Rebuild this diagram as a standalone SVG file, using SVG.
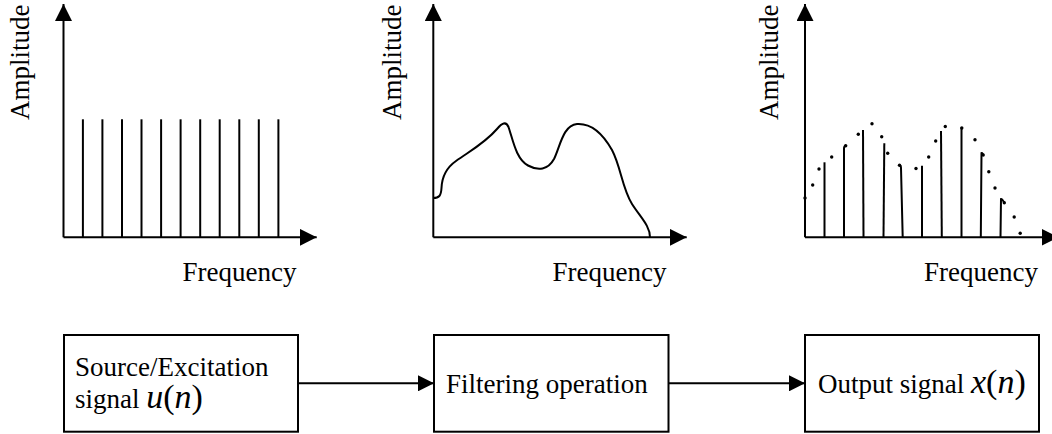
<svg xmlns="http://www.w3.org/2000/svg" width="1052" height="434" viewBox="0 0 1052 434">
<style>
.ax{stroke:#000;stroke-width:2;fill:none}
.st{stroke:#000;stroke-width:2;fill:none}
.bx{stroke:#000;stroke-width:2;fill:#fff}
.t{font-family:"Liberation Serif","Times New Roman",serif;font-size:27px;fill:#000}
.m{font-family:"Liberation Serif","Times New Roman",serif;font-size:34px;font-style:italic}
.p{font-family:"Liberation Serif","Times New Roman",serif;font-size:34px;font-style:normal}
.d{fill:#000}
</style>
<defs>
<marker id="ah" viewBox="0 0 17 17" refX="17" refY="8.5" markerWidth="17" markerHeight="17" markerUnits="userSpaceOnUse" orient="auto">
<path d="M0,0 L17,8.5 L0,17 Z" fill="#000"/>
</marker>
<marker id="ah2" viewBox="0 0 16 16" refX="16" refY="8" markerWidth="16" markerHeight="16" markerUnits="userSpaceOnUse" orient="auto">
<path d="M0,0 L16,8 L0,16 Z" fill="#000"/>
</marker>
</defs>
<rect width="1052" height="434" fill="#fff"/>

<g id="panel1">
<line class="ax" x1="63.5" y1="237.3" x2="63.5" y2="4" marker-end="url(#ah)"/>
<line class="ax" x1="63.5" y1="237.3" x2="316.7" y2="237.3" marker-end="url(#ah)"/>
<g class="st">
<line x1="82.9" y1="119.3" x2="82.9" y2="237.3"/>
<line x1="102.4" y1="119.3" x2="102.4" y2="237.3"/>
<line x1="122" y1="119.3" x2="122" y2="237.3"/>
<line x1="141.5" y1="119.3" x2="141.5" y2="237.3"/>
<line x1="161.1" y1="119.3" x2="161.1" y2="237.3"/>
<line x1="180.6" y1="119.3" x2="180.6" y2="237.3"/>
<line x1="200.2" y1="119.3" x2="200.2" y2="237.3"/>
<line x1="219.7" y1="119.3" x2="219.7" y2="237.3"/>
<line x1="239.3" y1="119.3" x2="239.3" y2="237.3"/>
<line x1="258.8" y1="119.3" x2="258.8" y2="237.3"/>
<line x1="278.4" y1="119.3" x2="278.4" y2="237.3"/>
</g>
<text class="t" transform="translate(28.5,120) rotate(-90)">Amplitude</text>
<text class="t" x="296.5" y="281" text-anchor="end">Frequency</text>
</g>

<g id="panel2">
<line class="ax" x1="433.3" y1="237.3" x2="433.3" y2="4" marker-end="url(#ah)"/>
<line class="ax" x1="433.3" y1="237.3" x2="686.7" y2="237.3" marker-end="url(#ah)"/>
<path class="st" d="M433.3,198 C439,198 441,196 441.5,188 C442,176 446,168 456,161 C470,151 485,143 497,129 C502,123 506,121 508.5,127 C513,140 516,159 528,165.5 C538,171 548,170 554,159 C560,147 563,125 577,124 C592,123 603,134 612,150 C621,167 622,188 632,204 C641,218 650,226 650,237.3"/>
<text class="t" transform="translate(401,120) rotate(-90)">Amplitude</text>
<text class="t" x="666.5" y="281" text-anchor="end">Frequency</text>
</g>

<g id="panel3">
<line class="ax" x1="805" y1="237.3" x2="805" y2="4" marker-end="url(#ah)"/>
<line class="ax" x1="805" y1="237.3" x2="1058.5" y2="237.3" marker-end="url(#ah)"/>
<g class="st">
<line x1="824.5" y1="162.3" x2="824.5" y2="237.3"/>
<path d="M844,237.3 L844,148 Q844.5,145.5 846,145.5"/>
<line x1="863" y1="130" x2="863.5" y2="237.3"/>
<line x1="884.3" y1="143.3" x2="883.5" y2="237.3"/>
<path d="M899.5,165.3 Q901,165.5 901,168 L902.7,237.3"/>
<line x1="922" y1="165.7" x2="922" y2="237.3"/>
<line x1="941" y1="131" x2="941.8" y2="237.3"/>
<line x1="961.5" y1="127.5" x2="961.5" y2="237.3"/>
<path d="M980.8,237.3 L981.5,153 Q982,152.5 983.2,155"/>
<path d="M1000.5,237.3 L1001,199 Q1002,198.5 1004.3,202.7"/>
</g>
<g class="d">
<circle cx="805" cy="198" r="1.7"/>
<circle cx="812.7" cy="185" r="1.7"/>
<circle cx="819" cy="169" r="1.7"/>
<circle cx="831.7" cy="157" r="1.7"/>
<circle cx="845.7" cy="145.7" r="1.7"/>
<circle cx="858.3" cy="134.2" r="1.7"/>
<circle cx="872" cy="123.8" r="1.7"/>
<circle cx="881.7" cy="136.7" r="1.7"/>
<circle cx="887.7" cy="153.2" r="1.7"/>
<circle cx="899.5" cy="165.3" r="1.7"/>
<circle cx="916" cy="168.5" r="1.7"/>
<circle cx="928.7" cy="157" r="1.7"/>
<circle cx="935.7" cy="141" r="1.7"/>
<circle cx="945.3" cy="126.5" r="1.7"/>
<circle cx="961.8" cy="128" r="1.7"/>
<circle cx="975" cy="139.7" r="1.7"/>
<circle cx="983.2" cy="155" r="1.7"/>
<circle cx="988.8" cy="171.7" r="1.7"/>
<circle cx="995" cy="188" r="1.7"/>
<circle cx="1004.3" cy="202.7" r="1.7"/>
<circle cx="1014.2" cy="217" r="1.7"/>
<circle cx="1020.2" cy="233.2" r="1.7"/>
</g>
<text class="t" transform="translate(778.3,120) rotate(-90)">Amplitude</text>
<text class="t" x="1038" y="281" text-anchor="end">Frequency</text>
</g>

<g id="connectors">
<line class="ax" x1="298" y1="383.3" x2="434" y2="383.3" marker-end="url(#ah2)"/>
<line class="ax" x1="668.5" y1="383.3" x2="805" y2="383.3" marker-end="url(#ah2)"/>
</g>

<g id="source">
<rect class="bx" x="64" y="335" width="234" height="96.7"/>
<text class="t" x="75" y="376">Source/Excitation</text>
<text class="t" x="75" y="408.3">signal <tspan class="m">u</tspan><tspan class="p">(</tspan><tspan class="m">n</tspan><tspan class="p">)</tspan></text>
</g>

<g id="filter">
<rect class="bx" x="434" y="335" width="234.5" height="96.7"/>
<text class="t" x="446" y="393">Filtering operation</text>
</g>

<g id="output">
<rect class="bx" x="805" y="335" width="234" height="96.7"/>
<text class="t" x="818" y="393">Output signal <tspan class="m">x</tspan><tspan class="p">(</tspan><tspan class="m">n</tspan><tspan class="p">)</tspan></text>
</g>
</svg>
